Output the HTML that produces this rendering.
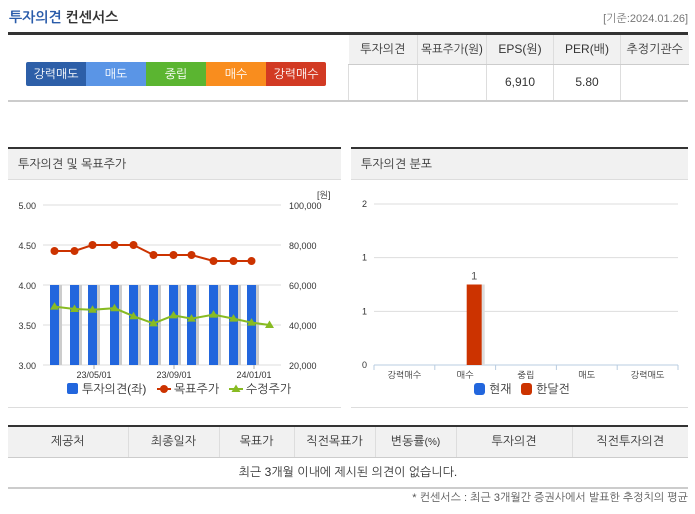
<!DOCTYPE html>
<html><head><meta charset="utf-8">
<style>
body{margin:0;width:695px;height:514px;background:#fff;font-family:"Liberation Sans","NanumGothic","Noto Sans CJK KR",sans-serif;font-size:12px;color:#333;position:relative;overflow:hidden}
.abs{position:absolute}
table{border-collapse:collapse}
</style></head><body>
<div class="abs" style="left:9px;top:9px;font-size:14px;font-weight:bold;color:#333"><span style="color:#2a5caa">투자의견</span> 컨센서스</div>
<div class="abs" style="right:7px;top:12px;font-size:11px;color:#777">[기준:2024.01.26]</div>
<div class="abs" style="left:8px;top:32px;width:680px;height:3px;background:#333"></div>
<div class="abs" style="left:26px;top:62px;width:300px;height:24px;display:flex;color:#fff;font-size:12px;border-radius:2px;overflow:hidden">
<div style="flex:1;background:#2d5fa8;text-align:center;line-height:24px">강력매도</div>
<div style="flex:1;background:#5a95e6;text-align:center;line-height:24px">매도</div>
<div style="flex:1;background:#5bb531;text-align:center;line-height:24px">중립</div>
<div style="flex:1;background:#f98d1e;text-align:center;line-height:24px">매수</div>
<div style="flex:1;background:#d23a23;text-align:center;line-height:24px">강력매수</div>
</div>
<table class="abs" style="left:348px;top:35px;width:340px;font-size:12px;text-align:center;table-layout:fixed">
<colgroup><col style="width:69px"><col style="width:69px"><col style="width:67px"><col style="width:67px"><col style="width:68px"></colgroup>
<tr style="background:#f1f1f1;height:29px"><td style="border-right:1px solid #ddd;border-bottom:1px solid #ccc">투자의견</td><td style="border-right:1px solid #ddd;border-bottom:1px solid #ccc;white-space:nowrap;font-size:11.5px">목표주가(원)</td><td style="border-right:1px solid #ddd;border-bottom:1px solid #ccc">EPS(원)</td><td style="border-right:1px solid #ddd;border-bottom:1px solid #ccc">PER(배)</td><td style="border-bottom:1px solid #ccc;white-space:nowrap">추정기관수</td></tr>
<tr style="height:36px"><td style="border-right:1px solid #ddd;border-left:1px solid #ddd"></td><td style="border-right:1px solid #ddd"></td><td style="border-right:1px solid #ddd">6,910</td><td style="border-right:1px solid #ddd">5.80</td><td></td></tr>
</table>
<div class="abs" style="left:8px;top:100px;width:680px;height:2px;background:#ccc"></div>

<div class="abs" style="left:8px;top:147px;width:333px;height:258px;border-top:2px solid #333;border-bottom:1px solid #ddd">
<div style="background:#f1f1f1;height:30px;line-height:30px;padding-left:10px;border-bottom:1px solid #ddd">투자의견 및 목표주가</div></div>
<div class="abs" style="left:351px;top:147px;width:337px;height:258px;border-top:2px solid #333;border-bottom:1px solid #ddd">
<div style="background:#f1f1f1;height:30px;line-height:30px;padding-left:10px;border-bottom:1px solid #ddd">투자의견 분포</div></div>

<svg class="abs" id="c1" style="left:0;top:0" width="345" height="410" font-family="Liberation Sans,NanumGothic,sans-serif"></svg>
<svg class="abs" id="c2" style="left:345px;top:0" width="350" height="410" font-family="Liberation Sans,NanumGothic,sans-serif"></svg>

<div class="abs" style="left:8px;top:425px;width:680px;height:2px;background:#333"></div>
<table class="abs" style="left:8px;top:427px;width:680px;font-size:12px;text-align:center;table-layout:fixed">
<colgroup><col style="width:120px"><col style="width:91px"><col style="width:75px"><col style="width:81px"><col style="width:81px"><col style="width:116px"><col style="width:116px"></colgroup>
<tr style="background:#f1f1f1;height:30px">
<td style="border-right:1px solid #ddd;border-bottom:1px solid #ccc">제공처</td><td style="border-right:1px solid #ddd;border-bottom:1px solid #ccc">최종일자</td><td style="border-right:1px solid #ddd;border-bottom:1px solid #ccc">목표가</td><td style="border-right:1px solid #ddd;border-bottom:1px solid #ccc">직전목표가</td><td style="border-right:1px solid #ddd;border-bottom:1px solid #ccc">변동률<span style="font-size:10px">(%)</span></td><td style="border-right:1px solid #ddd;border-bottom:1px solid #ccc">투자의견</td><td style="border-bottom:1px solid #ccc">직전투자의견</td></tr>
<tr style="height:31px"><td colspan="7" style="border-bottom:2px solid #ccc">최근 3개월 이내에 제시된 의견이 없습니다.</td></tr>
</table>
<div class="abs" style="right:7px;top:491px;font-size:11px;color:#555">* 컨센서스 : 최근 3개월간 증권사에서 발표한 추정치의 평균</div>

<script>
const NS="http://www.w3.org/2000/svg";
function mk(p,t,a,txt){const e=document.createElementNS(NS,t);for(const k in a)e.setAttribute(k,a[k]);if(txt!==undefined)e.textContent=txt;p.appendChild(e);return e;}
// chart 1 data
const opinionValues=[4,4,4,4,4,4,4,4,4,4,4];
const targetPrices=[77000,77000,80000,80000,80000,75000,75000,75000,72000,72000,72000];
const revisedPrices=[49200,48000,47600,48400,44400,40800,44800,43200,45200,43200,41200,40000];
const pointX=[54.5,74.5,92.5,114.5,133.5,153.5,173.5,191.5,213.5,233.5,251.5,269.5];
const leftTicks=["3.00","3.50","4.00","4.50","5.00"];
const rightTicks=["20,000","40,000","60,000","80,000","100,000"];
const dateLabels=["23/05/01","23/09/01","24/01/01"];
const dateX=[94,174,254];
(function(){
const s=document.getElementById('c1');
const y0=365,y1=205,x0=43,x1=281;
const yL=v=>y0-(v-3)/2*(y0-y1);
const yR=v=>y0-(v-20000)/80000*(y0-y1);
leftTicks.forEach((t,i)=>{const y=y0-i*(y0-y1)/4;
 const g=mk(s,'line',{x1:x0,x2:x1,y1:y,y2:y,stroke:'#ddd'});
 const a=mk(s,'text',{x:36,y:y+4,'text-anchor':'end','font-size':9,fill:'#333'},t);
 const b=mk(s,'text',{x:289,y:y+4,'font-size':9,fill:'#333'},rightTicks[i]);});
const u=mk(s,'text',{x:317,y:198,'font-size':9,fill:'#333'},'[원]');
opinionValues.forEach((v,i)=>{const x=pointX[i];
 const sh=mk(s,'rect',{x:x+4.5,y:yL(v),width:3,height:y0-yL(v),fill:'#ccc'});
 const r=mk(s,'rect',{x:x-4.5,y:yL(v),width:9,height:y0-yL(v),fill:'#2266dd'});});
dateLabels.forEach((d,i)=>{const t=mk(s,'text',{x:dateX[i],y:378,'text-anchor':'middle','font-size':9,fill:'#333'},d);
 const tk=mk(s,'line',{x1:dateX[i],x2:dateX[i],y1:y0,y2:y0+4,stroke:'#aaa'});});
const tl=mk(s,'polyline',{points:targetPrices.map((v,i)=>pointX[i]+','+yR(v)).join(' '),fill:'none',stroke:'#cc3300','stroke-width':2});
targetPrices.forEach((v,i)=>{const c=mk(s,'circle',{cx:pointX[i],cy:yR(v),r:4,fill:'#cc3300'});});
const rl=mk(s,'polyline',{points:revisedPrices.map((v,i)=>pointX[i]+','+yR(v)).join(' '),fill:'none',stroke:'#88bb22','stroke-width':2});
revisedPrices.forEach((v,i)=>{const x=pointX[i],y=yR(v);const p=mk(s,'polygon',{points:`${x},${y-4.5} ${x+4.5},${y+3} ${x-4.5},${y+3}`,fill:'#88bb22'});});
const l1=mk(s,'rect',{x:67,y:383,width:11,height:11,rx:2,fill:'#2266dd'});
const t1=mk(s,'text',{x:82,y:393,'font-size':12,fill:'#333'},'투자의견(좌)');
const l2=mk(s,'line',{x1:157,x2:171,y1:389,y2:389,stroke:'#cc3300','stroke-width':2});
const l2c=mk(s,'circle',{cx:164,cy:389,r:4,fill:'#cc3300'});
const t2=mk(s,'text',{x:174,y:393,'font-size':12,fill:'#333'},'목표주가');
const l3=mk(s,'line',{x1:229,x2:243,y1:389,y2:389,stroke:'#88bb22','stroke-width':2});
const l3p=mk(s,'polygon',{points:'236,384.5 240.5,392 231.5,392',fill:'#88bb22'});
const t3=mk(s,'text',{x:246,y:393,'font-size':12,fill:'#333'},'수정주가');
})();
// chart 2 data
const distCategories=["강력매수","매수","중립","매도","강력매도"];
const currentCounts=[0,0,0,0,0];
const monthAgoCounts=[0,1,0,0,0];
const distTicks=["0","1","1","2"];
(function(){
const s=document.getElementById('c2');
const x0=29,x1=333,y0=365,y1=204;const cw=(x1-x0)/distCategories.length;
const yv=v=>y0-v/2*(y0-y1);
distTicks.forEach((t,i)=>{const y=y0-i*(y0-y1)/3;
 if(i>0){const g=mk(s,'line',{x1:x0,x2:x1,y1:y,y2:y,stroke:'#ddd'});}
 const a=mk(s,'text',{x:22,y:y+3,'text-anchor':'end','font-size':9,fill:'#333'},t);});
const ax=mk(s,'line',{x1:x0,x2:x1,y1:y0,y2:y0,stroke:'#b8cce0'});
for(let i=0;i<=distCategories.length;i++){const tk=mk(s,'line',{x1:x0+i*cw,x2:x0+i*cw,y1:y0,y2:y0+5,stroke:'#b8cce0'});}
distCategories.forEach((c,i)=>{const cx=x0+(i+0.5)*cw;
 const t=mk(s,'text',{x:cx,y:378,'text-anchor':'middle','font-size':9,fill:'#333'},c);
 if(currentCounts[i]>0){const r=mk(s,'rect',{x:cx-15,y:yv(currentCounts[i]),width:15,height:y0-yv(currentCounts[i]),fill:'#2266dd'});}
 if(monthAgoCounts[i]>0){const v=monthAgoCounts[i];
  const sh=mk(s,'rect',{x:cx+16.5,y:yv(v),width:3,height:y0-yv(v),fill:'#ddd'});
  const r=mk(s,'rect',{x:cx+1.5,y:yv(v),width:15,height:y0-yv(v),fill:'#cc3300'});
  const lb=mk(s,'text',{x:cx+9,y:yv(v)-5,'text-anchor':'middle','font-size':11,fill:'#555'},String(v));}});
const l1=mk(s,'rect',{x:129,y:383,width:11,height:12,rx:3,fill:'#2266dd'});
const t1=mk(s,'text',{x:144,y:393,'font-size':12,fill:'#333'},'현재');
const l2=mk(s,'rect',{x:176,y:383,width:11,height:12,rx:3,fill:'#cc3300'});
const t2=mk(s,'text',{x:191,y:393,'font-size':12,fill:'#333'},'한달전');
})();
</script>
</body></html>
